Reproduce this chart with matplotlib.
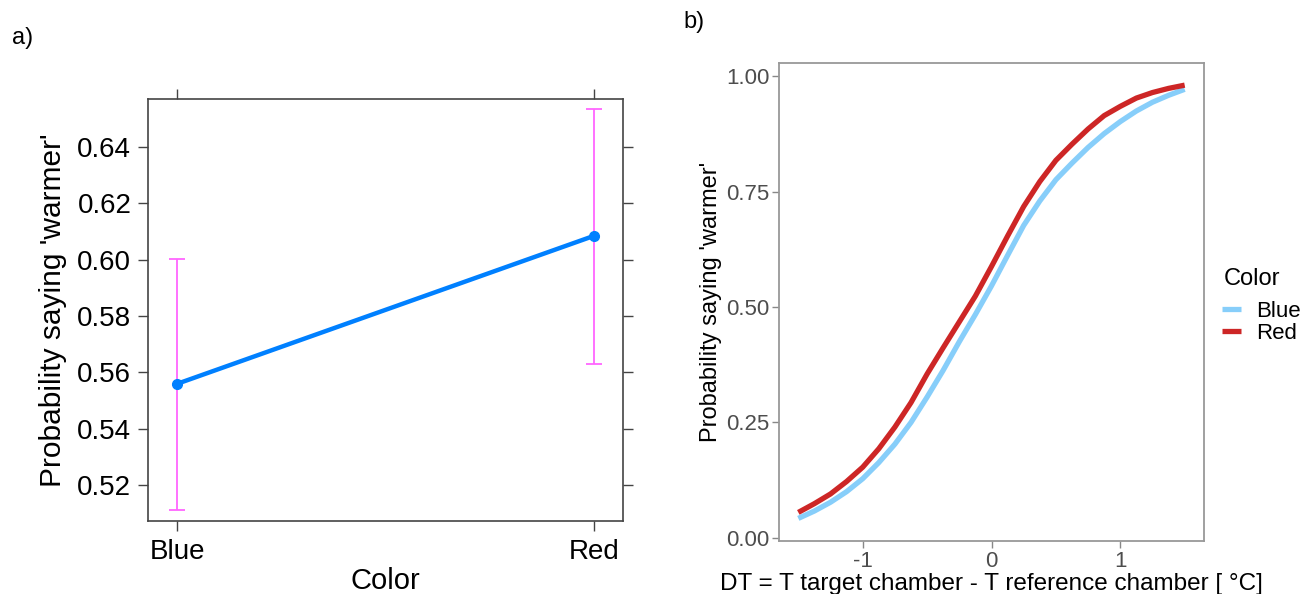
import matplotlib
matplotlib.use("Agg")
import matplotlib.pyplot as plt
import numpy as np

plt.rcParams['font.family'] = ['Liberation Sans', 'DejaVu Sans']

# panel a: estimated probability per colour with confidence limits
colors_a = ['Blue', 'Red']
prob_a = [0.5559, 0.6084]
lower_a = [0.5111, 0.5631]
upper_a = [0.6002, 0.6534]
yticks_a = [0.52, 0.54, 0.56, 0.58, 0.60, 0.62, 0.64]

# panel b: predicted curves over temperature difference
dt = [-1.5, -1.375, -1.25, -1.125, -1.0, -0.875, -0.75, -0.625, -0.5, -0.375,
      -0.25, -0.125, 0.0, 0.125, 0.25, 0.375, 0.5, 0.625, 0.75, 0.875,
      1.0, 1.125, 1.25, 1.375, 1.5]
blue_b = [0.042, 0.058, 0.077, 0.100, 0.128, 0.163, 0.203, 0.250, 0.305, 0.363,
          0.425, 0.484, 0.546, 0.612, 0.677, 0.730, 0.776, 0.812, 0.846, 0.876,
          0.902, 0.925, 0.944, 0.959, 0.972]
red_b = [0.055, 0.074, 0.095, 0.122, 0.153, 0.193, 0.240, 0.293, 0.355, 0.412,
         0.468, 0.524, 0.588, 0.654, 0.718, 0.772, 0.818, 0.853, 0.886, 0.915,
         0.935, 0.953, 0.965, 0.974, 0.981]
yticks_b = [0.0, 0.25, 0.5, 0.75, 1.0]
xticks_b = [-1, 0, 1]

W, H = 1302, 594
fig = plt.figure(figsize=(W / 100, H / 100), dpi=100)

# ---- panel a (lattice style) ----
ax1 = fig.add_axes([148 / W, 1 - 521 / H, 475 / W, 422 / H])
xa = np.arange(1, len(colors_a) + 1)
err = [np.array(prob_a) - np.array(lower_a), np.array(upper_a) - np.array(prob_a)]
ax1.errorbar(xa, prob_a, yerr=err, fmt='none', ecolor='#FF66FF', elinewidth=1.3,
             capsize=6, capthick=1.3, zorder=2)
ax1.plot(xa, prob_a, color='#0080FF', lw=3.2, marker='o', ms=7, zorder=3)
ax1.set_xlim(0.930, 2.070)
ax1.set_ylim(0.5072, 0.657)
ax1.set_xticks(xa)
ax1.set_xticklabels(colors_a)
ax1.set_yticks(yticks_a)
ax1.set_yticklabels(['%.2f' % v for v in yticks_a])
ax1.tick_params(direction='out', length=7, width=1, color='#444444',
                labelsize=20, top=True, right=True)
ax1.tick_params(axis='y', pad=5)
ax1.tick_params(axis='x', pad=6)
for s in ax1.spines.values():
    s.set_color('#444444')
    s.set_linewidth(1.2)
ax1.set_xlabel('Color', fontsize=21)
ax1.xaxis.set_label_coords(0.5, -0.108)
ax1.set_ylabel("Probability saying 'warmer'", fontsize=21.5, labelpad=7)

# ---- panel b (ggplot style) ----
ax2 = fig.add_axes([779 / W, 1 - 541 / H, 425 / W, 478 / H])
ax2.plot(dt, blue_b, color='#87CEFA', lw=3.8, solid_capstyle='butt', label='Blue')
ax2.plot(dt, red_b, color='#CD2626', lw=3.8, solid_capstyle='butt', label='Red')
ax2.set_xlim(-1.65, 1.65)
ax2.set_ylim(-0.007, 1.029)
ax2.set_xticks(xticks_b)
ax2.set_xticklabels(['-1', '0', '1'])
ax2.set_yticks(yticks_b)
ax2.set_yticklabels(['%.2f' % v for v in yticks_b])
ax2.tick_params(direction='out', length=5, width=1, color='#888888',
                labelcolor='#4D4D4D', labelsize=16, pad=2)
for s in ax2.spines.values():
    s.set_color('#999999')
    s.set_linewidth(1.3)
ax2.set_xlabel('DT = T target chamber - T reference chamber [ °C]', fontsize=17.5, labelpad=1)
ax2.set_ylabel("Probability saying 'warmer'", fontsize=17, labelpad=3)

fig.text(1224 / W, 1 - 279 / H, 'Color', fontsize=17, va='center', ha='left')
leg = ax2.legend(loc='upper left', bbox_to_anchor=(1222 / W, 1 - 301 / H),
                 bbox_transform=fig.transFigure, frameon=False, fontsize=16,
                 handlelength=0.85, handletextpad=0.7,
                 labelspacing=0.05, borderpad=0, borderaxespad=0)

fig.text(12 / W, 1 - 38 / H, 'a)', fontsize=17, va='center', ha='left')
fig.text(683 / W, 1 - 22 / H, 'b)', fontsize=17, va='center', ha='left')

fig.savefig('out.png', dpi=100)
plt.close(fig)
